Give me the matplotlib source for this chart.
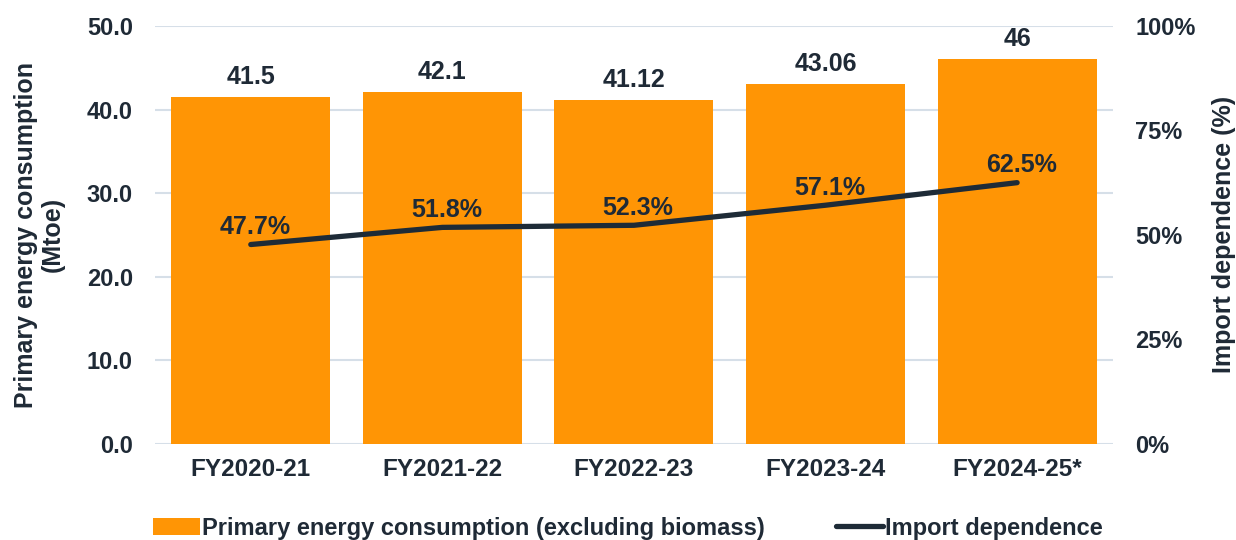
import numpy as np
import matplotlib.pyplot as plt
from matplotlib.ticker import PercentFormatter

# Données
years = ['FY2020-21', 'FY2021-22', 'FY2022-23', 'FY2023-24', 'FY2024-25*']
consumption = [41.5, 42.1, 41.12, 43.06, 46]
import_dep = [47.7, 51.8, 52.3, 57.1, 62.5]
consumption_labels = ['41.5', '42.1', '41.12', '43.06', '46']

TXT = '#1f2a36'
ORANGE = '#ff9505'
GRID = '#d6dfe8'

plt.rcParams['font.family'] = ['Liberation Sans', 'DejaVu Sans']
plt.rcParams['font.weight'] = 'bold'

fig = plt.figure(figsize=(12.36, 5.4), dpi=100)
ax = fig.add_axes([0.1254, 0.178, 0.775, 0.774])
x = np.arange(len(years))

bars = ax.bar(x, consumption, width=0.83, color=ORANGE, zorder=2,
              label='Primary energy consumption (excluding biomass)')
ax.set_ylim(0, 50)
ax.set_xlim(-0.5, len(years) - 0.5)
ax.set_yticks(np.arange(0, 51, 10))
ax.yaxis.set_major_formatter(lambda v, p: f'{v:.1f}')
ax.grid(axis='y', color=GRID, linewidth=1.5, zorder=0)
ax.set_xticks(x)
ax.set_xticklabels(years)
for s in ax.spines.values():
    s.set_visible(False)
ax.tick_params(length=0, labelsize=17, colors=TXT, pad=8)
ax.tick_params(axis='x', labelsize=17.5, pad=10)
ax.tick_params(axis='y', pad=16)
ax.set_ylabel('Primary energy consumption\n(Mtoe)', fontsize=18, color=TXT,
              fontweight='bold', labelpad=16, linespacing=1.15)

for xi, v, lab in zip(x, consumption, consumption_labels):
    ax.annotate(lab, (xi, v), xytext=(0, 6), textcoords='offset points',
                ha='center', va='bottom', fontsize=18, color=TXT, fontweight='bold')

ax2 = ax.twinx()
ax2.set_ylim(0, 100)
ax2.set_yticks(np.arange(0, 101, 25))
ax2.yaxis.set_major_formatter(PercentFormatter(decimals=0))
line, = ax2.plot(x, import_dep, color='#1e2b37', linewidth=3.8,
                 solid_capstyle='round', zorder=3, label='Import dependence')
for s in ax2.spines.values():
    s.set_visible(False)
ax2.tick_params(length=0, labelsize=17, colors=TXT, pad=16)
ax2.set_ylabel('Import dependence (%)', fontsize=18, color=TXT,
               fontweight='bold', labelpad=12)

for xi, v in zip(x, import_dep):
    ax2.annotate(f'{v}%', (xi, v), xytext=(3, 4), textcoords='offset points',
                 ha='center', va='bottom', fontsize=18, color=TXT, fontweight='bold')

fig.legend(handles=[bars, line], loc='center', bbox_to_anchor=(0.508, 0.022),
           ncol=2, frameon=False, fontsize=17, labelcolor=TXT,
           handlelength=2.0, handletextpad=0.1, columnspacing=3.0)

fig.savefig('out.png', dpi=100)
